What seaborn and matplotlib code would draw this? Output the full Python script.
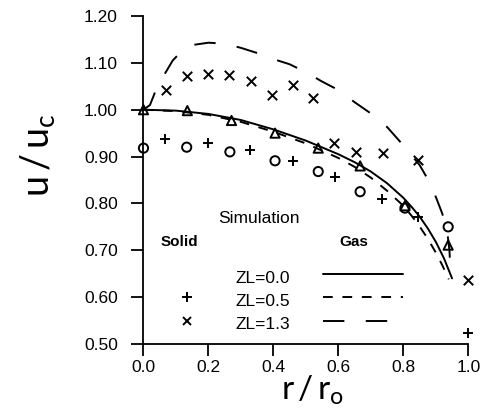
import matplotlib
matplotlib.use("Agg")
import matplotlib.pyplot as plt
import seaborn as sns

# ---- data ----
# ZL=0.5 solid-phase simulation (+)
plus_x = [0.066, 0.200, 0.328, 0.461, 0.590, 0.733, 0.846, 1.000]
plus_y = [0.938, 0.930, 0.913, 0.891, 0.856, 0.810, 0.770, 0.523]
# ZL=1.3 solid-phase simulation (x)
cross_x = [0.068, 0.135, 0.200, 0.264, 0.330, 0.395, 0.459, 0.521, 0.587, 0.654, 0.736, 0.846, 1.000]
cross_y = [1.042, 1.071, 1.076, 1.074, 1.062, 1.031, 1.053, 1.026, 0.930, 0.910, 0.908, 0.893, 0.637]
# circles
circ_x = [0.000, 0.133, 0.266, 0.405, 0.538, 0.667, 0.805, 0.938]
circ_y = [0.918, 0.920, 0.910, 0.891, 0.868, 0.825, 0.790, 0.750]
# triangles
tri_x = [0.000, 0.135, 0.271, 0.405, 0.538, 0.667, 0.805, 0.938]
tri_y = [1.000, 0.998, 0.977, 0.950, 0.918, 0.880, 0.795, 0.711]

# gas-phase simulation curves
gas00_x = [0.0, 0.1, 0.2, 0.3, 0.4, 0.5, 0.6, 0.65, 0.7, 0.75, 0.8, 0.825, 0.85, 0.875,
           0.9, 0.925, 0.95]
gas00_y = [1.000, 0.998, 0.991, 0.978, 0.958, 0.934, 0.905, 0.888, 0.868, 0.843, 0.812, 0.793,
           0.772, 0.747, 0.718, 0.683, 0.640]
gas05_x = [0.0, 0.1, 0.2, 0.3, 0.4, 0.5, 0.6, 0.65, 0.7, 0.75, 0.8, 0.825, 0.85, 0.875,
           0.9, 0.92, 0.94]
gas05_y = [1.000, 0.997, 0.989, 0.974, 0.953, 0.928, 0.897, 0.878, 0.855, 0.827, 0.795, 0.774,
           0.751, 0.725, 0.695, 0.668, 0.638]
gas13_x = [0.0, 0.02, 0.04, 0.06, 0.09, 0.12, 0.15, 0.2, 0.25, 0.3, 0.35, 0.4, 0.45, 0.5,
           0.55, 0.6, 0.65, 0.7, 0.75, 0.8, 0.85, 0.875, 0.9, 0.92, 0.935, 0.942, 0.946]
gas13_y = [1.000, 1.010, 1.045, 1.070, 1.105, 1.127, 1.138, 1.143, 1.141, 1.132, 1.121, 1.108,
           1.097, 1.080, 1.060, 1.042, 1.016, 0.992, 0.963, 0.924, 0.882, 0.852, 0.814, 0.778,
           0.740, 0.700, 0.640]

x_ticks = [0.0, 0.2, 0.4, 0.6, 0.8, 1.0]
y_ticks = [0.50, 0.60, 0.70, 0.80, 0.90, 1.00, 1.10, 1.20]
legend_labels = ["ZL=0.0", "ZL=0.5", "ZL=1.3"]

# ---- style ----
sns.set_style("ticks")
plt.rcParams["font.family"] = ["Liberation Sans", "DejaVu Sans"]
plt.rcParams["mathtext.fontset"] = "custom"
plt.rcParams["mathtext.rm"] = "Lato"
plt.rcParams["mathtext.it"] = "Lato"
plt.rcParams["axes.labelcolor"] = "black"
plt.rcParams["text.color"] = "black"

fig = plt.figure(figsize=(4.81, 4.08), dpi=100)
ax = fig.add_axes([0.2983, 0.1569, 0.6753, 0.8039])

lw = 1.4
sns.lineplot(x=gas00_x, y=gas00_y, ax=ax, color="black", lw=lw, sort=False, estimator=None)
sns.lineplot(x=gas05_x, y=gas05_y, ax=ax, color="black", lw=lw, sort=False, estimator=None,
             linestyle=(0, (5, 5)))
sns.lineplot(x=gas13_x, y=gas13_y, ax=ax, color="black", lw=lw, sort=False, estimator=None,
             linestyle=(0, (11, 11)))

mk = dict(color="black", s=46, linewidth=1.4, clip_on=False, zorder=5)
sns.scatterplot(x=plus_x, y=plus_y, marker="+", ax=ax, **mk)
sns.scatterplot(x=cross_x, y=cross_y, marker="x", ax=ax, **mk)
sns.scatterplot(x=circ_x, y=circ_y, marker="o", ax=ax, facecolor="none", edgecolor="black",
                s=44, linewidth=1.4, clip_on=False, zorder=5)
sns.scatterplot(x=tri_x, y=tri_y, marker="^", ax=ax, facecolor="none", edgecolor="black",
                s=44, linewidth=1.4, clip_on=False, zorder=5)

ax.set_xlim(0, 1.0)
ax.set_ylim(0.5, 1.2)
ax.set_xticks(x_ticks)
ax.set_yticks(y_ticks)
ax.set_xticklabels([f"{v:.1f}" for v in x_ticks])
ax.set_yticklabels([f"{v:.2f}" for v in y_ticks])
sns.despine(ax=ax)
for s in ["left", "bottom"]:
    ax.spines[s].set_linewidth(1.3)
    ax.spines[s].set_color("black")
ax.tick_params(axis="y", direction="out", length=8.5, width=1.3, pad=10, labelsize=12.5,
               colors="black")
ax.tick_params(axis="x", direction="out", length=8.5, width=1.3, pad=3, labelsize=12.5,
               colors="black")

ax.set_ylabel(r"$\mathrm{u\,/\,u_c}$", fontsize=27, va="center", color="black")
ax.yaxis.set_label_coords(-0.325, 0.576)
ax.set_xlabel(r"$\mathrm{r\,/\,r_o}$", fontsize=24, va="center", color="black")
ax.xaxis.set_label_coords(0.522, -0.143)

# ---- legend block ----
T = ax.transAxes
ax.text(0.354, 0.384, "Simulation", transform=T, ha="center", va="center", fontsize=12.5)
ax.text(0.112, 0.311, "Solid", transform=T, ha="center", va="center", fontsize=11,
        fontweight="bold")
ax.text(0.648, 0.311, "Gas", transform=T, ha="center", va="center", fontsize=11,
        fontweight="bold")
ys = [0.201, 0.129, 0.059]
line_ys = [0.213, 0.143, 0.069]
styles = ["-", (0, (5, 5)), (0, (11, 11))]
for lab, yy, ly, st in zip(legend_labels, ys, line_ys, styles):
    ax.text(0.366, yy, lab, transform=T, ha="center", va="center", fontsize=12.5)
    ax.plot([0.552, 0.799], [ly, ly], transform=T, color="black", lw=lw, linestyle=st)
ax.plot([0.133], [0.143], transform=T, marker="+", color="black", ms=7, mew=1.4)
ax.plot([0.133], [0.069], transform=T, marker="x", color="black", ms=6, mew=1.4)

fig.savefig("out.png", dpi=100)
